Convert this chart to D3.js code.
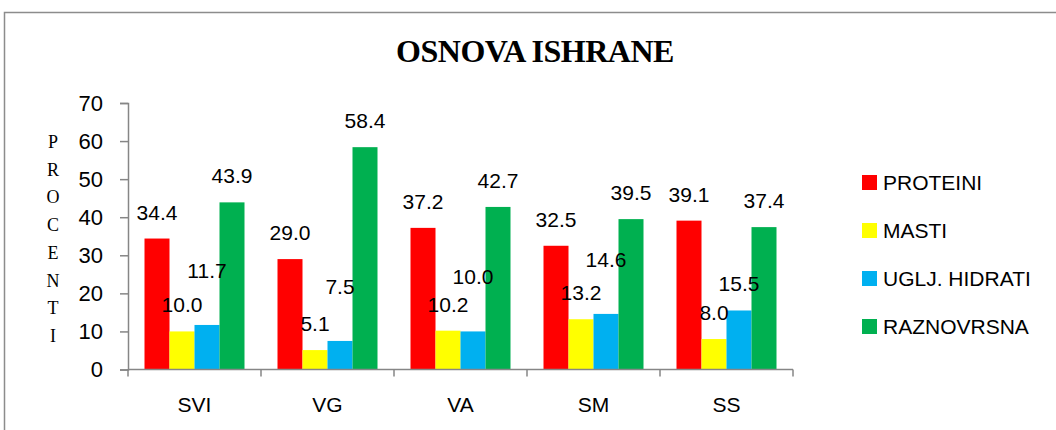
<!DOCTYPE html>
<html>
<head>
<meta charset="utf-8">
<script src="https://cdn.jsdelivr.net/npm/d3@7"></script>
<style>
  body { margin: 0; background: #fff; }
  svg { display: block; }
</style>
</head>
<body>
<div id="chart"></div>
<script>
// data
const categories = ['SVI', 'VG', 'VA', 'SM', 'SS']
const seriesNames = ['PROTEINI', 'MASTI', 'UGLJ. HIDRATI', 'RAZNOVRSNA']
const proteini = [34.4, 29.0, 37.2, 32.5, 39.1]
const masti = [10.0, 5.1, 10.2, 13.2, 8.0]
const ugljHidrati = [11.7, 7.5, 10.0, 14.6, 15.5]
const raznovrsna = [43.9, 58.4, 42.7, 39.5, 37.4]
const yTicks = [0, 10, 20, 30, 40, 50, 60, 70]
const axisTitle = 'PROCENTI'

const colors = ['#ff0000', '#ffff00', '#00b0f0', '#00b050']
const series = [proteini, masti, ugljHidrati, raznovrsna]

const width = 1056, height = 430
const plot = { left: 128, right: 793, top: 103, bottom: 369.5 }
const sans = '"Liberation Sans", Arial, sans-serif'
const serif = '"Liberation Serif", "Times New Roman", serif'
const axisColor = '#868686'

const svg = d3.select('#chart')
  .append('svg')
  .attr('width', width)
  .attr('height', height)

// outer chart frame (runs off the right and bottom edge)
svg.append('rect')
  .attr('x', 4.5).attr('y', 12.5)
  .attr('width', 1100).attr('height', 500)
  .attr('fill', 'none')
  .attr('stroke', '#8c8c8c')
  .attr('stroke-width', 1.5)

svg.append('text')
  .attr('x', 535).attr('y', 62)
  .attr('text-anchor', 'middle')
  .style('font-family', serif)
  .style('font-weight', 'bold')
  .style('font-size', '32px')
  .style('letter-spacing', '-0.5px')
  .text('OSNOVA ISHRANE')

const x0 = d3.scaleBand()
  .domain(categories)
  .range([plot.left, plot.right])
  .padding(0)

const x1 = d3.scaleBand()
  .domain(d3.range(series.length))
  .range([0, x0.bandwidth()])
  .paddingInner(0)
  .paddingOuter(0.66)

const y = d3.scaleLinear()
  .domain([0, 70])
  .range([plot.bottom, plot.top])

// bars
const groups = svg.append('g')
  .selectAll('g')
  .data(categories)
  .join('g')
  .attr('transform', d => `translate(${x0(d)},0)`)

groups.selectAll('rect')
  .data((c, ci) => series.map((s, si) => ({ si, value: s[ci] })))
  .join('rect')
  .attr('x', d => x1(d.si))
  .attr('y', d => y(d.value))
  .attr('width', x1.bandwidth())
  .attr('height', d => y(0) - y(d.value))
  .attr('fill', d => colors[d.si])

// y axis
const yAxis = svg.append('g')
  .attr('transform', `translate(${plot.left},0)`)
  .call(d3.axisLeft(y).tickValues(yTicks).tickSize(8).tickPadding(17).tickFormat(d3.format('d')))
yAxis.select('.domain').attr('stroke', axisColor).attr('stroke-width', 1.5)
yAxis.selectAll('.tick line').attr('stroke', axisColor).attr('stroke-width', 1.5)
yAxis.selectAll('.tick text')
  .style('font-family', sans)
  .style('font-size', '22px')
  .attr('fill', '#000')

// x axis with ticks between categories
const xAxisG = svg.append('g')
  .attr('transform', `translate(0,${plot.bottom})`)
xAxisG.append('line')
  .attr('x1', plot.left).attr('x2', plot.right)
  .attr('stroke', axisColor).attr('stroke-width', 1.5)
const bounds = categories.map(c => x0(c)).concat([plot.right])
xAxisG.selectAll('line.sep')
  .data(bounds)
  .join('line')
  .attr('class', 'sep')
  .attr('x1', d => d).attr('x2', d => d)
  .attr('y1', 0).attr('y2', 7)
  .attr('stroke', axisColor).attr('stroke-width', 1.5)
xAxisG.selectAll('text')
  .data(categories)
  .join('text')
  .attr('x', d => x0(d) + x0.bandwidth() / 2)
  .attr('y', 42)
  .attr('text-anchor', 'middle')
  .style('font-family', sans)
  .style('font-size', '21px')
  .text(d => d)

// value labels, the carbohydrate label is lifted when it would hit the fat label
const labelGap = 19
categories.forEach((c, ci) => {
  const base = series.map(s => y(s[ci]) - labelGap)
  if (Math.abs(base[2] - base[1]) < 24) {
    base[2] = Math.min(base[2], base[1]) - 28
  }
  series.forEach((s, si) => {
    svg.append('text')
      .attr('x', x0(c) + x1(si) + x1.bandwidth() / 2)
      .attr('y', base[si])
      .attr('text-anchor', 'middle')
      .style('font-family', sans)
      .style('font-size', '21px')
      .text(d3.format('.1f')(s[ci]))
  })
})

// vertical stacked axis title
svg.append('g')
  .selectAll('text')
  .data(axisTitle.split(''))
  .join('text')
  .attr('x', 53)
  .attr('y', (d, i) => 148 + i * 27.7)
  .attr('text-anchor', 'middle')
  .style('font-family', serif)
  .style('font-size', '18px')
  .text(d => d)

// legend
const legend = svg.append('g')
  .attr('transform', 'translate(862,175)')
const item = legend.selectAll('g')
  .data(seriesNames)
  .join('g')
  .attr('transform', (d, i) => `translate(0,${i * 48})`)
item.append('rect')
  .attr('width', 15).attr('height', 15)
  .attr('fill', (d, i) => colors[i])
item.append('text')
  .attr('x', 21).attr('y', 15)
  .style('font-family', sans)
  .style('font-size', '21px')
  .text(d => d)
</script>
</body>
</html>
